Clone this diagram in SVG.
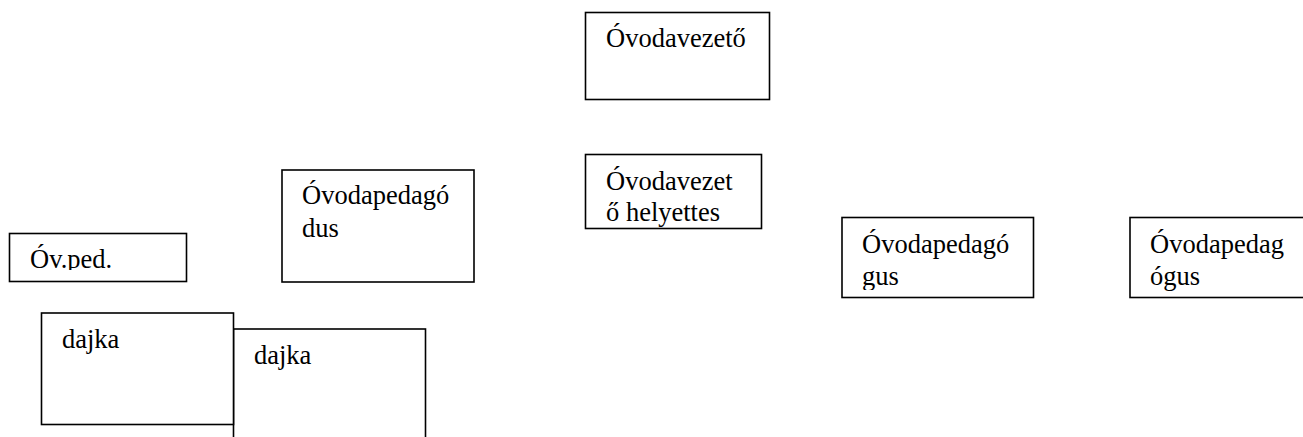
<svg xmlns="http://www.w3.org/2000/svg" width="1303" height="437" viewBox="0 0 1303 437">
<style>
.box{fill:#fff;stroke:#000;stroke-width:1.6}
.t{font-family:"Liberation Serif","Times New Roman",serif;font-size:26.5px;fill:#000}
</style>
<defs>
<clipPath id="c4"><rect x="10" y="234" width="176" height="36"/></clipPath>
<clipPath id="c5"><rect x="843" y="218" width="190" height="72"/></clipPath>
<clipPath id="c6"><rect x="1131" y="218" width="180" height="74"/></clipPath>
<clipPath id="c2"><rect x="586" y="155" width="176" height="72"/></clipPath>
</defs>
<rect width="1303" height="437" fill="#fff"/>
<g id="connectors"></g>
<g id="n-vezeto">
<rect class="box" x="585.5" y="12.5" width="184" height="87"/>
<text class="t" x="606" y="47">Óvodavezető</text>
</g>
<g id="n-helyettes">
<rect class="box" x="585.5" y="154.5" width="176" height="74"/>
<g clip-path="url(#c2)">
<text class="t" x="606" y="190">Óvodavezet</text>
<text class="t" x="606" y="221">ő helyettes</text>
</g>
</g>
<g id="n-ped1">
<rect class="box" x="282" y="170" width="192" height="112"/>
<text class="t" x="302" y="204">Óvodapedagó</text>
<text class="t" x="302" y="237">dus</text>
</g>
<g id="n-ovped">
<rect class="box" x="9.5" y="233.5" width="177" height="48"/>
<text class="t" x="30" y="268" clip-path="url(#c4)">Óv.ped.</text>
</g>
<g id="n-ped2">
<rect class="box" x="842" y="217.5" width="191.5" height="80"/>
<g clip-path="url(#c5)">
<text class="t" x="862" y="253">Óvodapedagó</text>
<text class="t" x="862" y="285">gus</text>
</g>
</g>
<g id="n-ped3">
<rect class="box" x="1130" y="217.5" width="200" height="80"/>
<g clip-path="url(#c6)">
<text class="t" x="1150" y="253">Óvodapedag</text>
<text class="t" x="1150" y="285">ógus</text>
</g>
</g>
<g id="n-dajka2">
<rect class="box" x="233.5" y="329" width="192" height="120"/>
<text class="t" x="254" y="364">dajka</text>
</g>
<g id="n-dajka1">
<rect class="box" x="41.5" y="313" width="192" height="111.5"/>
<text class="t" x="62" y="348">dajka</text>
</g>
</svg>
